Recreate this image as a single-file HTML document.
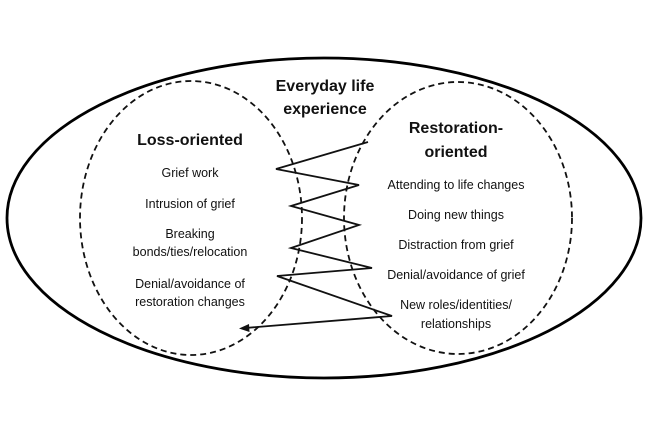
<!DOCTYPE html>
<html><head><meta charset="utf-8"><style>
html,body{margin:0;padding:0;background:#fff;}
svg{display:block;}
text{font-family:"Liberation Sans",sans-serif;fill:#111;text-anchor:middle;}
.b{font-weight:bold;font-size:16px;}
.r{font-size:12.5px;}
</style></head><body>
<svg width="650" height="433" viewBox="0 0 650 433">
<ellipse cx="324" cy="218" rx="317" ry="160" fill="none" stroke="#000" stroke-width="2.8"/>
<ellipse cx="191" cy="218" rx="111" ry="137" fill="none" stroke="#111" stroke-width="1.8" stroke-dasharray="6,4"/>
<ellipse cx="458" cy="218" rx="114" ry="136" fill="none" stroke="#111" stroke-width="1.8" stroke-dasharray="6,4"/>
<polyline points="368,142 276,169 359,185 291,206 359,225 291,248 372,268 277,276 392,316 245,328" fill="none" stroke="#111" stroke-width="1.8"/>
<polygon points="239,328.5 249,324 249.5,332" fill="#111"/>
<text class="b" x="325" y="91">Everyday life</text>
<text class="b" x="325" y="114">experience</text>
<text class="b" x="190" y="145">Loss-oriented</text>
<text class="b" x="456" y="133">Restoration-</text>
<text class="b" x="456" y="157">oriented</text>
<text class="r" x="190" y="177">Grief work</text>
<text class="r" x="190" y="208">Intrusion of grief</text>
<text class="r" x="190" y="238">Breaking</text>
<text class="r" x="190" y="256">bonds/ties/relocation</text>
<text class="r" x="190" y="288">Denial/avoidance of</text>
<text class="r" x="190" y="306">restoration changes</text>
<text class="r" x="456" y="189">Attending to life changes</text>
<text class="r" x="456" y="219">Doing new things</text>
<text class="r" x="456" y="249">Distraction from grief</text>
<text class="r" x="456" y="279">Denial/avoidance of grief</text>
<text class="r" x="456" y="309">New roles/identities/</text>
<text class="r" x="456" y="328">relationships</text>
</svg>
</body></html>
